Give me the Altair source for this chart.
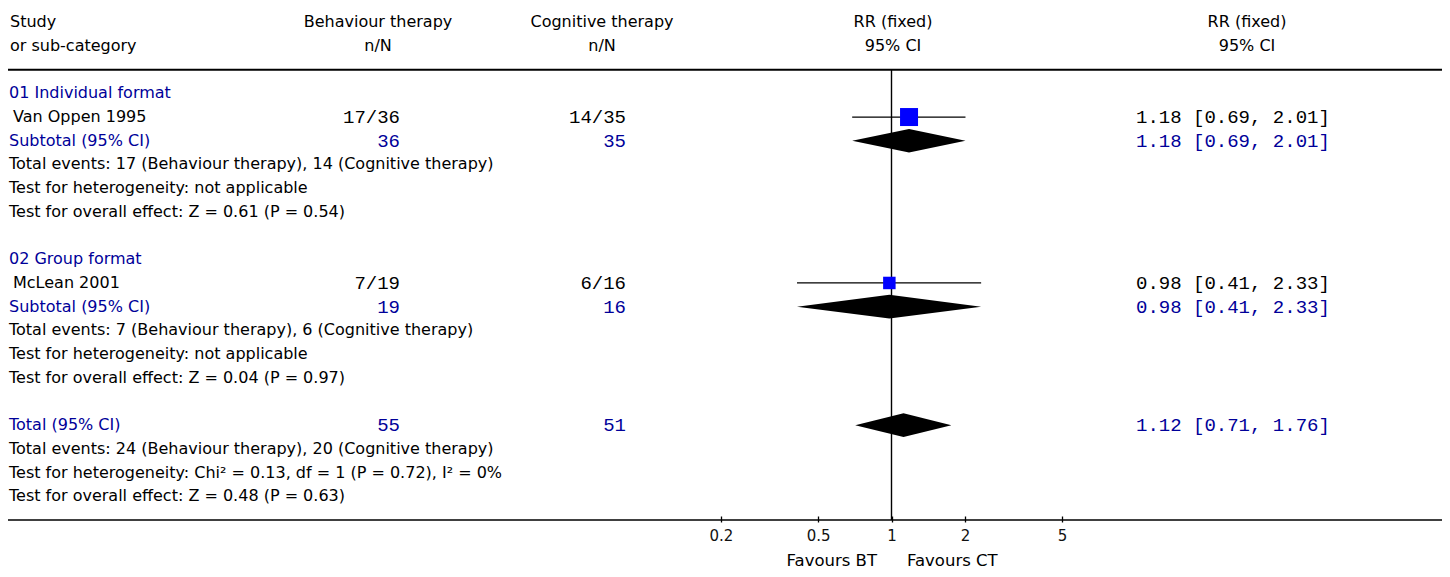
import altair as alt
import pandas as pd

# ---------------- data ----------------
head_row = [-3, -2]
head_study = ["Study", "or sub-category"]
head_bt = ["Behaviour therapy", "n/N"]
head_ct = ["Cognitive therapy", "n/N"]
head_rr = ["RR (fixed)", "95% CI"]

left_text = [
    "01 Individual format",
    "Van Oppen 1995",
    "Subtotal (95% CI)",
    "Total events: 17 (Behaviour therapy), 14 (Cognitive therapy)",
    "Test for heterogeneity: not applicable",
    "Test for overall effect: Z = 0.61 (P = 0.54)",
    "02 Group format",
    "McLean 2001",
    "Subtotal (95% CI)",
    "Total events: 7 (Behaviour therapy), 6 (Cognitive therapy)",
    "Test for heterogeneity: not applicable",
    "Test for overall effect: Z = 0.04 (P = 0.97)",
    "Total (95% CI)",
    "Total events: 24 (Behaviour therapy), 20 (Cognitive therapy)",
    "Test for heterogeneity: Chi\u00b2 = 0.13, df = 1 (P = 0.72), I\u00b2 = 0%",
    "Test for overall effect: Z = 0.48 (P = 0.63)",
]
left_row = [0, 1, 2, 3, 4, 5, 7, 8, 9, 10, 11, 12, 14, 15, 16, 17]
left_kind = ["group", "study", "sub", "note", "note", "note",
             "group", "study", "sub", "note", "note", "note",
             "sub", "note", "note", "note"]

num_row = [1, 2, 8, 9, 14]
num_kind = ["study", "sub", "study", "sub", "sub"]
bt_text = ["17/36", "36", "7/19", "19", "55"]
ct_text = ["14/35", "35", "6/16", "16", "51"]

rr = [1.18, 1.18, 0.98, 0.98, 1.12]
rr_lo = [0.69, 0.69, 0.41, 0.41, 0.71]
rr_hi = [2.01, 2.01, 2.33, 2.33, 1.76]

study_row = [1, 8]
study_rr = [1.18, 0.98]
study_lo = [0.69, 0.41]
study_hi = [2.01, 2.33]
study_weight = [67.5, 32.5]

pooled_row = [2, 9, 14]
pooled_rr = [1.18, 0.98, 1.12]
pooled_lo = [0.69, 0.41, 0.71]
pooled_hi = [2.01, 2.33, 1.76]

tick_values = [0.2, 0.5, 1, 2, 5]
null_value = [1]
favours = ["Favours BT", "Favours CT"]

# ---------------- layout ----------------
BLUE = "#000099"
W, H = 1434, 512
SANS = "DejaVu Sans"
MONO = "Liberation Mono"
FS = 16
MS = 19

yscale = alt.Scale(domain=[-3.6, 18], range=[0, H], nice=False, zero=False)
xscale = alt.Scale(type="log", domain=[0.1, 10], range=[639.5, 1127.5], nice=False)
xaxis = alt.Axis(values=tick_values, format="~g", domain=False, grid=False,
                 tickSize=6, tickColor="black", tickWidth=1.3, offset=-4,
                 labelFont=SANS, labelFontSize=15, labelColor="#111111",
                 labelPadding=6, title=None, labelFlush=False, labelOverlap=False)
kind_color = alt.Color("kind:N", legend=None,
                       scale=alt.Scale(domain=["group", "study", "sub", "note"],
                                       range=[BLUE, "black", BLUE, "black"]))


def Y(field="row"):
    return alt.Y(f"{field}:Q", scale=yscale, axis=None)


def X(field):
    return alt.X(f"{field}:Q", scale=xscale, axis=xaxis)


def text_layer(df, x, align, font, size, colored=False):
    enc = dict(x=alt.value(x), y=Y(), text="text:N")
    enc["color"] = kind_color if colored else alt.value("black")
    return alt.Chart(df).mark_text(align=align, baseline="middle",
                                   font=font, fontSize=size).encode(**enc)


head_df = pd.DataFrame({"row": head_row, "study": head_study, "bt": head_bt,
                        "ct": head_ct, "rr": head_rr})
layers = []
for col, x, align in [("study", 2, "left"), ("bt", 370, "center"),
                      ("ct", 594, "center"), ("rr", 885, "center"),
                      ("rr", 1239, "center")]:
    d = head_df[["row", col]].rename(columns={col: "text"})
    layers.append(text_layer(d, x, align, SANS, FS))

left_df = pd.DataFrame({"row": left_row, "text": left_text, "kind": left_kind})
layers.append(text_layer(left_df[left_df.kind != "study"], 1, "left", SANS, FS, True))
layers.append(text_layer(left_df[left_df.kind == "study"], 5, "left", SANS, FS, True))

num_df = pd.DataFrame({"row": num_row, "kind": num_kind, "bt": bt_text, "ct": ct_text})
layers.append(text_layer(num_df.rename(columns={"bt": "text"}), 392, "right", MONO, MS, True))
layers.append(text_layer(num_df.rename(columns={"ct": "text"}), 618, "right", MONO, MS, True))

ci_df = pd.DataFrame({"row": num_row, "kind": num_kind,
                      "text": [f"{a:.2f} [{b:.2f}, {c:.2f}]" for a, b, c in zip(rr, rr_lo, rr_hi)]})
layers.append(text_layer(ci_df, 1128, "left", MONO, MS, True))

# horizontal rules
line_top = pd.DataFrame({"row": [-1]})
line_bot = pd.DataFrame({"row": [18]})
layers.append(alt.Chart(line_top).mark_rule(color="black", strokeWidth=2).encode(
    x=alt.value(0), x2=alt.value(W), y=Y()))
layers.append(alt.Chart(line_bot).mark_rule(color="black", strokeWidth=1.6).encode(
    x=alt.value(0), x2=alt.value(W), y=Y()))

# null line
null_df = pd.DataFrame({"v": null_value, "y0": [-1], "y1": [18]})
layers.append(alt.Chart(null_df).mark_rule(color="black", strokeWidth=1.4).encode(
    x=X("v"), y=Y("y0"), y2="y1:Q"))

# study CIs and squares
st_df = pd.DataFrame({"row": study_row, "rr": study_rr, "lo": study_lo,
                      "hi": study_hi, "w": study_weight})
layers.append(alt.Chart(st_df).mark_rule(color="black", strokeWidth=1.2).encode(
    x=X("lo"), x2="hi:Q", y=Y()))
layers.append(alt.Chart(st_df).mark_square(color="#0000FF", opacity=1).encode(
    x=X("rr"), y=Y(),
    size=alt.Size("w:Q", legend=None, scale=alt.Scale(domain=[0, 100], range=[0, 480]))))

# pooled diamonds
HALF = 0.5
dia = []
for i, (r, e, l, h) in enumerate(zip(pooled_row, pooled_rr, pooled_lo, pooled_hi)):
    dia.append({"id": i, "x": l, "top": r, "bot": r})
    dia.append({"id": i, "x": e, "top": r - HALF, "bot": r + HALF})
    dia.append({"id": i, "x": h, "top": r, "bot": r})
dia_df = pd.DataFrame(dia)
layers.append(alt.Chart(dia_df).mark_area(color="black", orient="vertical", opacity=1).encode(
    x=X("x"), y=Y("top"), y2="bot:Q", detail="id:N"))

# favours labels
fav_df = pd.DataFrame({"text": favours})
layers.append(alt.Chart(fav_df.iloc[[0]]).mark_text(
    align="right", baseline="middle", font=SANS, fontSize=16.5, color="black").encode(
    x=alt.value(869), y=alt.value(553), text="text:N"))
layers.append(alt.Chart(fav_df.iloc[[1]]).mark_text(
    align="left", baseline="middle", font=SANS, fontSize=16.5, color="black").encode(
    x=alt.value(899), y=alt.value(553), text="text:N"))

chart = alt.layer(*layers).properties(
    width=W, height=H,
    padding={"left": 0, "top": 0, "right": 0, "bottom": 49},
    autosize=alt.AutoSizeParams(type="none"),
    background="white",
).configure_view(stroke=None)

chart.save("out.html", embed_options={"renderer": "svg", "actions": False})
